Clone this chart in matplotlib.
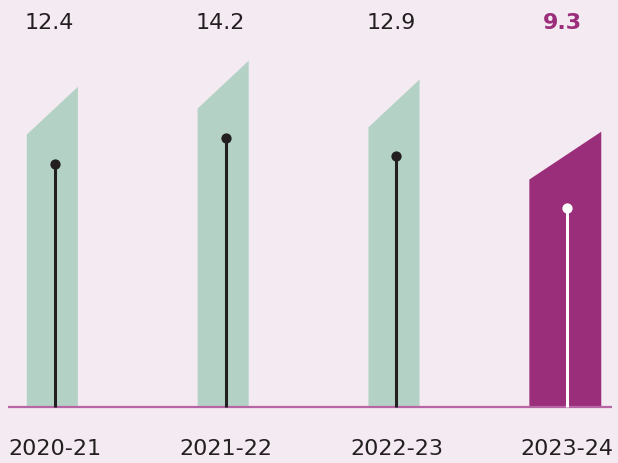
import matplotlib.pyplot as plt
from matplotlib.patches import Polygon

# Yearly values shown above each column
years = ["2020-21", "2021-22", "2022-23", "2023-24"]
values = [12.4, 14.2, 12.9, 9.3]

GREEN = "#b3d2c5"
PURPLE = "#9b2e7b"
INK = "#231f20"
BG = "#f4eaf2"

plt.rcParams["font.family"] = ["DejaVu Sans"]

fig = plt.figure(figsize=(6.18, 4.63), dpi=100, facecolor=BG)
ax = fig.add_axes([0, 0, 1, 1])
ax.set_facecolor(BG)

# one x unit = 170.8 px, one y unit = 14.49 px; baseline sits at y = -4.4
base = -4.4
ax.set_xlim(-0.321, 3.297)
ax.set_ylim(-8.265, 23.69)
ax.axis("off")

lift = 2.0      # left corner of the column sits above the lollipop head
slant = 3.3     # rise of the slanted top, left to right
for i, (yr, v) in enumerate(zip(years, values)):
    last = i == len(values) - 1
    fill = PURPLE if last else GREEN
    if last:
        x0, x1 = i - 0.222, i + 0.199
    else:
        x0, x1 = i - 0.164, i + 0.135
    top = v + lift
    ax.add_patch(Polygon([(x0, base), (x0, top), (x1, top + slant), (x1, base)],
                         closed=True, fc=fill, ec="none", zorder=1))
    stem = "white" if last else INK
    ax.plot([i, i], [base, v], color=stem, lw=2.2, solid_capstyle="butt", zorder=3)
    ax.plot(i, v, marker="o", ms=7.4, mfc=stem, mec="none", zorder=4)

    ax.text(i - 0.03, 22.1, f"{v:.1f}", ha="center", va="center",
            fontsize=16, color=PURPLE if last else INK,
            fontweight="bold" if last else "normal")
    ax.text(i, -7.3, yr, ha="center", va="center", fontsize=16, color=INK)

ax.plot([-0.274, 3.262], [base, base], color="#b865a6", lw=1.6, zorder=2,
        solid_capstyle="butt")

fig.savefig("out.png", dpi=100, facecolor=BG)
